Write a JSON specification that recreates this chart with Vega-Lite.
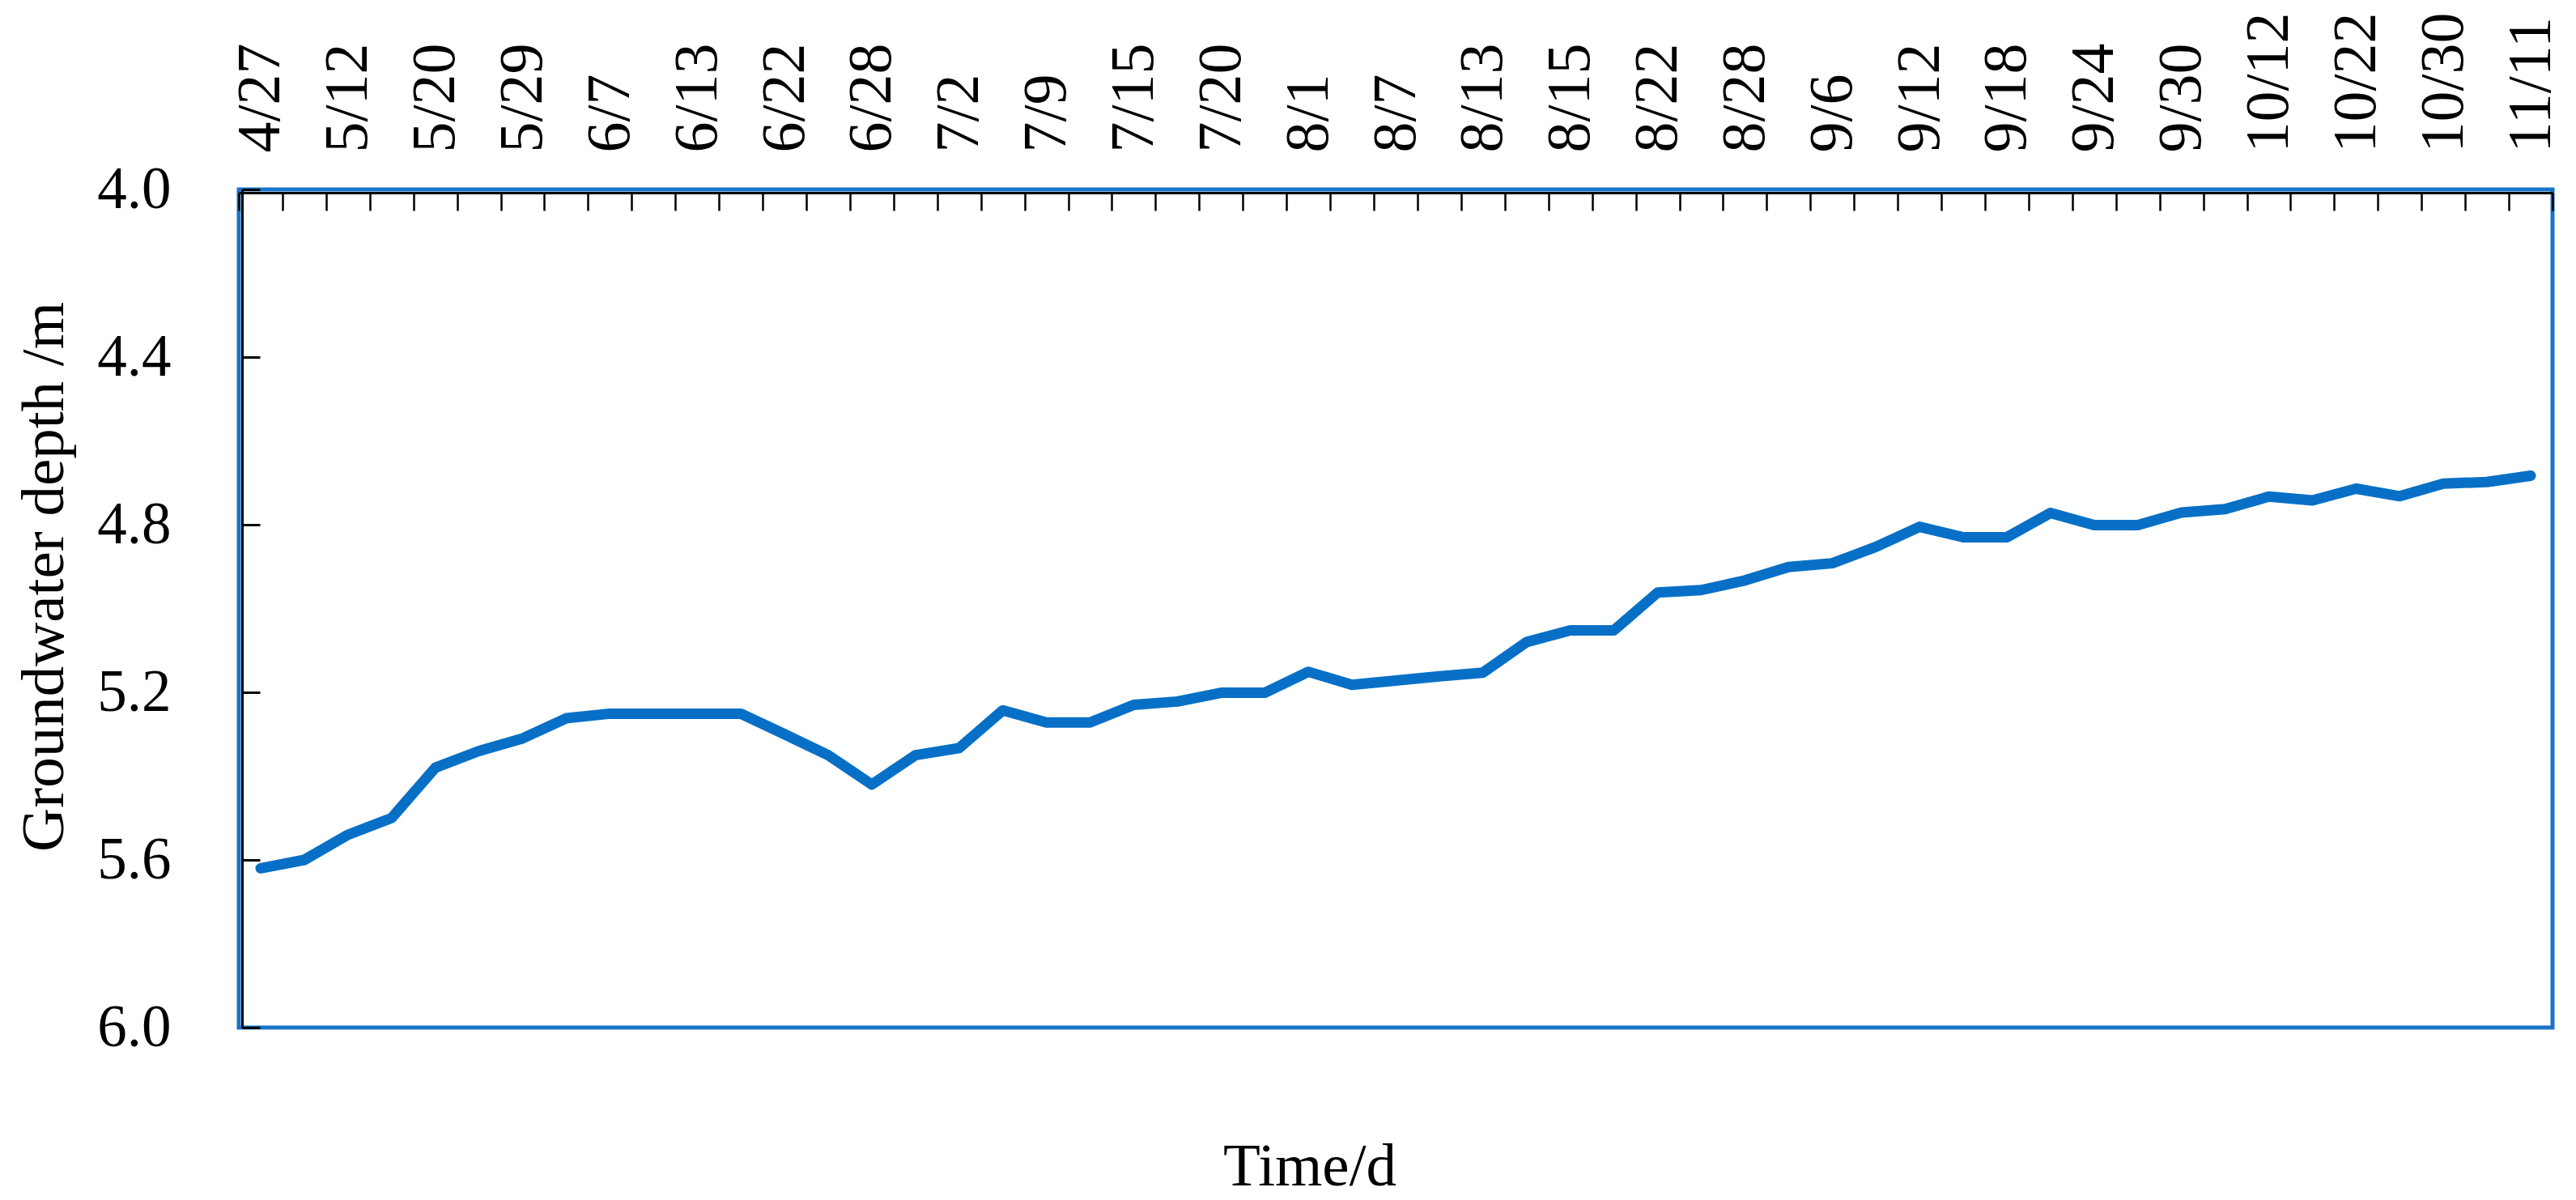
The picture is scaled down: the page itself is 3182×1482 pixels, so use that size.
{
  "$schema": "https://vega.github.io/schema/vega-lite/v6.json",
  "width": 2858,
  "height": 1035,
  "autosize": {"type": "none"},
  "padding": {"left": 295, "top": 234, "right": 29, "bottom": 213},
  "background": "white",
  "config": {
    "view": {"stroke": "#1a73c9", "strokeWidth": 5},
    "font": "Liberation Serif"
  },
  "title": {
    "text": "Time/d",
    "orient": "bottom",
    "anchor": "middle",
    "frame": "group",
    "dx": -106,
    "offset": 158,
    "baseline": "alphabetic",
    "font": "Liberation Serif",
    "fontSize": 75,
    "fontWeight": "normal",
    "color": "black"
  },
  "data": {
    "values": [
      {"label": "4/27", "depth": 5.62},
      {"label": "4/27+", "depth": 5.60},
      {"label": "5/12", "depth": 5.54},
      {"label": "5/12+", "depth": 5.50},
      {"label": "5/20", "depth": 5.38},
      {"label": "5/20+", "depth": 5.34},
      {"label": "5/29", "depth": 5.31},
      {"label": "5/29+", "depth": 5.262},
      {"label": "6/7", "depth": 5.251},
      {"label": "6/7+", "depth": 5.251},
      {"label": "6/13", "depth": 5.251},
      {"label": "6/13+", "depth": 5.251},
      {"label": "6/22", "depth": 5.30},
      {"label": "6/22+", "depth": 5.35},
      {"label": "6/28", "depth": 5.42},
      {"label": "6/28+", "depth": 5.35},
      {"label": "7/2", "depth": 5.333},
      {"label": "7/2+", "depth": 5.243},
      {"label": "7/9", "depth": 5.272},
      {"label": "7/9+", "depth": 5.272},
      {"label": "7/15", "depth": 5.23},
      {"label": "7/15+", "depth": 5.222},
      {"label": "7/20", "depth": 5.201},
      {"label": "7/20+", "depth": 5.201},
      {"label": "8/1", "depth": 5.151},
      {"label": "8/1+", "depth": 5.182},
      {"label": "8/7", "depth": 5.172},
      {"label": "8/7+", "depth": 5.162},
      {"label": "8/13", "depth": 5.153},
      {"label": "8/13+", "depth": 5.08},
      {"label": "8/15", "depth": 5.052},
      {"label": "8/15+", "depth": 5.052},
      {"label": "8/22", "depth": 4.962},
      {"label": "8/22+", "depth": 4.956},
      {"label": "8/28", "depth": 4.933},
      {"label": "8/28+", "depth": 4.901},
      {"label": "9/6", "depth": 4.892},
      {"label": "9/6+", "depth": 4.853},
      {"label": "9/12", "depth": 4.805},
      {"label": "9/12+", "depth": 4.83},
      {"label": "9/18", "depth": 4.83},
      {"label": "9/18+", "depth": 4.772},
      {"label": "9/24", "depth": 4.801},
      {"label": "9/24+", "depth": 4.801},
      {"label": "9/30", "depth": 4.771},
      {"label": "9/30+", "depth": 4.763},
      {"label": "10/12", "depth": 4.733},
      {"label": "10/12+", "depth": 4.742},
      {"label": "10/22", "depth": 4.714},
      {"label": "10/22+", "depth": 4.732},
      {"label": "10/30", "depth": 4.702},
      {"label": "10/30+", "depth": 4.698},
      {"label": "11/11", "depth": 4.683}
    ]
  },
  "mark": {
    "type": "line",
    "color": "#0770c6",
    "strokeWidth": 13,
    "strokeCap": "round",
    "strokeJoin": "round"
  },
  "encoding": {
    "x": {
      "field": "label",
      "type": "ordinal",
      "sort": null,
      "scale": {"type": "band", "paddingInner": 0, "paddingOuter": 0},
      "axis": {
        "orient": "top",
        "title": null,
        "offset": -4,
        "tickBand": "extent",
        "labelAngle": -90,
        "labelExpr": "substring(datum.label, length(datum.label) - 1) == '+' ? '' : datum.label",
        "labelOverlap": false,
        "labelFont": "Liberation Serif",
        "labelFontSize": 76,
        "labelColor": "black",
        "labelPadding": 72,
        "tickSize": -22,
        "tickColor": "black",
        "tickWidth": 2.5,
        "domainColor": "black",
        "domainWidth": 3,
        "grid": false
      }
    },
    "y": {
      "field": "depth",
      "type": "quantitative",
      "scale": {"domain": [4, 6], "reverse": true, "nice": false, "zero": false},
      "axis": {
        "orient": "left",
        "offset": -4,
        "title": "Groundwater depth /m",
        "titleFont": "Liberation Serif",
        "titleFontSize": 75,
        "titleFontWeight": "normal",
        "titleColor": "black",
        "titleAngle": 270,
        "titleAlign": "center",
        "titleBaseline": "middle",
        "titleX": -245,
        "titleY": 478,
        "values": [4.0, 4.4, 4.8, 5.2, 5.6, 6.0],
        "format": ".1f",
        "labelFont": "Liberation Serif",
        "labelFontSize": 73,
        "labelColor": "black",
        "labelPadding": 110,
        "tickSize": -22,
        "tickColor": "black",
        "tickWidth": 3,
        "domainColor": "black",
        "domainWidth": 3,
        "grid": false
      }
    }
  }
}
